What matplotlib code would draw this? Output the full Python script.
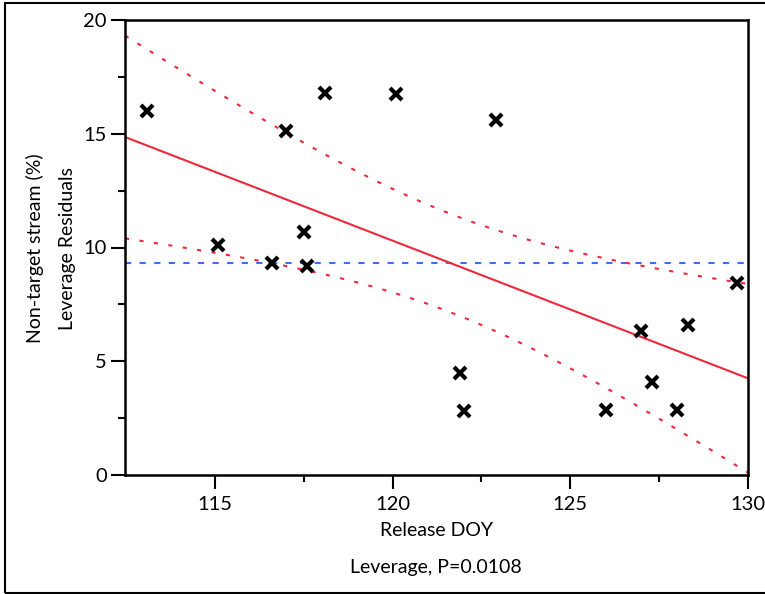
import numpy as np
import matplotlib.pyplot as plt
from matplotlib.patches import Rectangle

# ---- data ----
release_doy = [113.1, 115.1, 117.0, 116.6, 117.5, 117.6, 118.1, 120.1, 122.9,
               121.9, 122.0, 126.0, 127.0, 127.3, 128.0, 128.3, 129.7]
nontarget = [16.0, 10.1, 15.1, 9.3, 10.7, 9.2, 16.8, 16.75, 15.6,
             4.5, 2.8, 2.85, 6.35, 4.1, 2.85, 6.6, 8.45]
p_value = 0.0108
x_ticks = [115, 120, 125, 130]
y_ticks = [0, 5, 10, 15, 20]

plt.rcParams['font.family'] = ['Lato', 'DejaVu Sans']

x = np.array(release_doy)
y = np.array(nontarget)
n = len(x)

# least squares fit + 95% confidence band for the mean
slope, intercept = np.polyfit(x, y, 1)
resid = y - (slope * x + intercept)
s = np.sqrt(np.sum(resid ** 2) / (n - 2))
t_crit = 2.131  # t(0.975, df=15)
xs = np.linspace(112.47, 130, 200)
fit = slope * xs + intercept
half = t_crit * s * np.sqrt(1 / n + (xs - x.mean()) ** 2 / np.sum((x - x.mean()) ** 2))

fig = plt.figure(figsize=(7.65, 5.94), dpi=100)
ax = fig.add_axes([125 / 765, 1 - 475 / 594, 623 / 765, 455 / 594])

ax.axhline(y.mean(), color='#3b6ff0', linestyle=(0, (3, 4)), linewidth=1.5)
ax.plot(xs, fit, color='#f0283c', linewidth=1.5)
ax.plot(xs, fit + half, color='#f0283c', linestyle=(0, (2, 5)), linewidth=1.5)
ax.plot(xs, fit - half, color='#f0283c', linestyle=(0, (2, 5)), linewidth=1.5)
ax.plot(x, y, linestyle='none', marker='x', markersize=9, markeredgewidth=3,
        color='black', clip_on=False, zorder=5)

ax.set_xlim(112.47, 130)
ax.set_ylim(0, 20)
ax.set_xticks(x_ticks)
ax.set_yticks(y_ticks)
ax.set_xticks([117.5, 122.5, 127.5], minor=True)
ax.set_yticks([2.5, 7.5, 12.5, 17.5], minor=True)
ax.tick_params(which='major', length=10, width=1.5, labelsize=14.5, direction='out')
ax.tick_params(which='minor', length=5, width=1.5, direction='out')
ax.tick_params(axis='x', pad=5)
ax.tick_params(axis='y', pad=3)
for sp in ax.spines.values():
    sp.set_linewidth(1.8)

fig.text(35 / 765, 1 - 248 / 594, 'Non-target stream (%)', rotation=90,
         ha='center', va='center', fontsize=14)
fig.text(68 / 765, 1 - 248 / 594, 'Leverage Residuals', rotation=90,
         ha='center', va='center', fontsize=14)
fig.text(436 / 765, 1 - 530 / 594, 'Release DOY', ha='center', va='center', fontsize=14)
fig.text(436 / 765, 1 - 568 / 594, 'Leverage, P=%.4f' % p_value,
         ha='center', va='center', fontsize=14)

# outer frame
fig.patches.append(Rectangle((5 / 765, 1 / 594), 1.0, 590 / 594, transform=fig.transFigure,
                             fill=False, edgecolor='black', linewidth=1.5))

fig.savefig('out.png', dpi=100)
